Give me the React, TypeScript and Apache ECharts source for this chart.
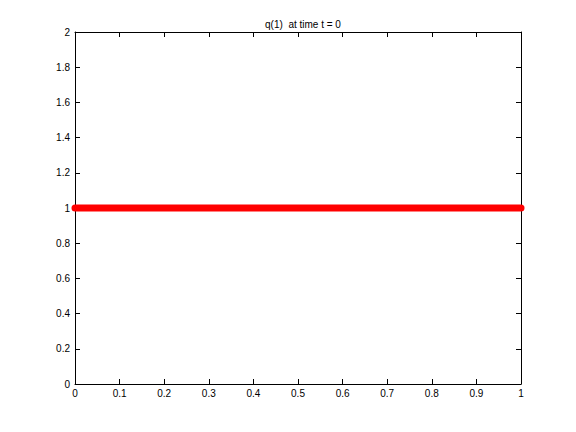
import React, { useEffect, useRef } from "react";
import * as echarts from "echarts";

const xValues = [0, 1];
const qValues = [1, 1];
const xTicks = [0, 0.1, 0.2, 0.3, 0.4, 0.5, 0.6, 0.7, 0.8, 0.9, 1];
const yTicks = [0, 0.2, 0.4, 0.6, 0.8, 1, 1.2, 1.4, 1.6, 1.8, 2];
const titleText = "q(1)  at time t = 0";

const fmt = (v: number) => String(Math.round(v * 10) / 10);

export default function App() {
  const ref = useRef<HTMLDivElement>(null);
  useEffect(() => {
    if (!ref.current) return;
    const chart = echarts.init(ref.current, null, { renderer: "svg" });
    const font = "Liberation Sans, Arial, sans-serif";
    const axisCommon = {
      axisLine: { show: true, onZero: false, lineStyle: { color: "#000", width: 1 } },
      axisTick: { show: true, inside: true, length: 5, lineStyle: { color: "#000", width: 1 } },
      splitLine: { show: false },
    };
    chart.setOption({
      animation: false,
      backgroundColor: "#fff",
      title: {
        text: titleText,
        left: 298,
        top: 14,
        textAlign: "center",
        textStyle: { fontSize: 10, fontWeight: "normal", color: "#000", fontFamily: font },
      },
      grid: { left: 75, right: 55, top: 32, bottom: 48, containLabel: false },
      xAxis: [
        {
          type: "value",
          min: xTicks[0],
          max: xTicks[xTicks.length - 1],
          interval: 0.1,
          position: "bottom",
          ...axisCommon,
          axisLabel: { color: "#000", fontSize: 10, fontFamily: font, margin: 4, formatter: fmt },
        },
        {
          type: "value",
          min: xTicks[0],
          max: xTicks[xTicks.length - 1],
          interval: 0.1,
          position: "top",
          ...axisCommon,
          axisLabel: { show: false },
        },
      ],
      yAxis: [
        {
          type: "value",
          min: yTicks[0],
          max: yTicks[yTicks.length - 1],
          interval: 0.2,
          position: "left",
          ...axisCommon,
          axisLabel: { color: "#000", fontSize: 10, fontFamily: font, margin: 5, formatter: fmt },
        },
        {
          type: "value",
          min: yTicks[0],
          max: yTicks[yTicks.length - 1],
          interval: 0.2,
          position: "right",
          ...axisCommon,
          axisLabel: { show: false },
        },
      ],
      series: [
        {
          type: "line",
          data: xValues.map((x, i) => [x, qValues[i]]),
          showSymbol: false,
          symbol: "none",
          lineStyle: { color: "#ff0000", width: 7, cap: "round" },
          z: 1,
        },
      ],
    });
    return () => chart.dispose();
  }, []);
  return <div ref={ref} style={{ width: 576, height: 432, position: "absolute", left: 0, top: 0 }} />;
}
